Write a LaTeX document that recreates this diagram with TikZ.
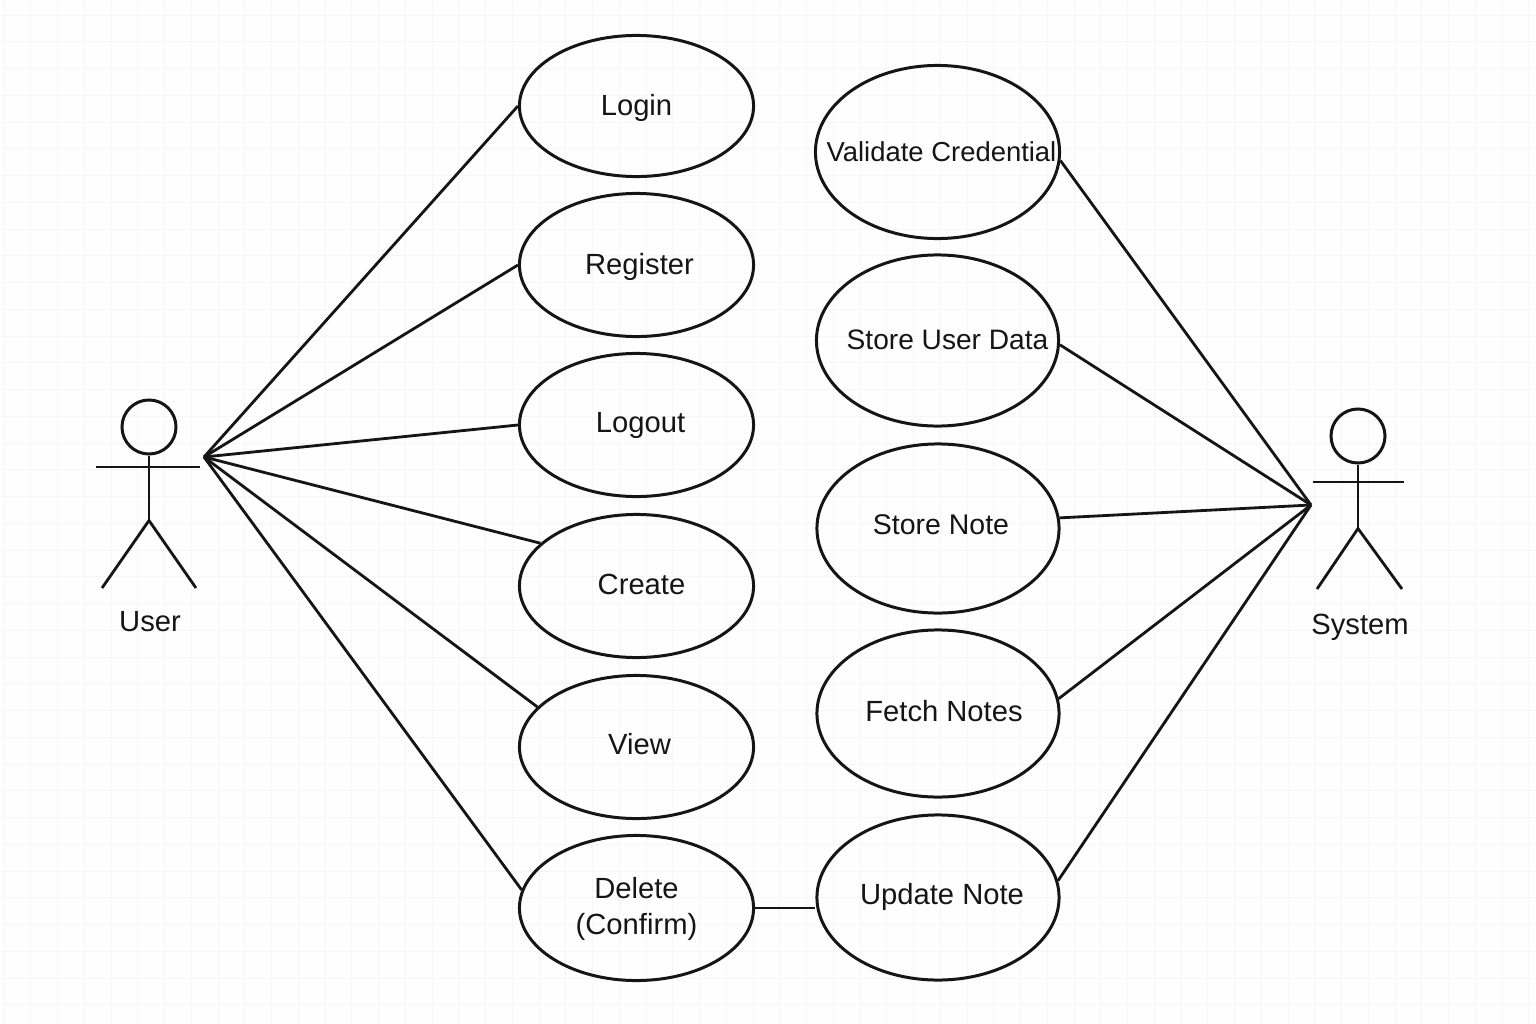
\documentclass[tikz,border=0pt]{standalone}
\usepackage{fontspec}
\setmainfont{Liberation Sans}
\usetikzlibrary{
  shapes.geometric,
  calc,
  positioning
}
\definecolor{inkline}{HTML}{151515}
\definecolor{gridline}{HTML}{F6F6F6}
\definecolor{paper}{HTML}{FEFEFE}
\newcommand{\umlfont}{\fontsize{8.3}{10}\selectfont}
\tikzset{
  usecase/.style = {ellipse, draw = inkline, line width = 0.85pt, inner sep = 0pt},
  leftcase/.style = {usecase, minimum width = 2.34cm, minimum height = 1.43cm},
  rightcase/.style = {usecase, minimum width = 2.42cm, minimum height = 1.7cm},
  assoc/.style = {draw = inkline, line width = 0.8pt},
  actorhead/.style = {circle, draw = inkline, line width = 0.85pt, minimum size = 0.54cm, inner sep = 0pt},
  actorname/.style = {text = inkline, font = \umlfont},
  every label/.style = {text = inkline, font = \umlfont, align = center}
}
\begin{document}
\begin{tikzpicture}[x = 0.01cm, y = -0.01cm]
    \useasboundingbox (0,0) rectangle (1536,1024);
    \fill[paper] (0,0) rectangle (1536,1024);

    % faint paper grid
    \foreach \gx in {4,30.75,...,1536}
      \draw[gridline, line width = 0.25pt] (\gx,0) -- (\gx,1024);
    \foreach \gy in {15,41.75,...,1024}
      \draw[gridline, line width = 0.25pt] (0,\gy) -- (1536,\gy);

    % user side
    \node[leftcase, minimum height = 1.41cm, label={[yshift=-0.02cm]center:Login}] (login) at (636.5,106) {};
    \node[leftcase, label={[xshift=0.03cm,yshift=-0.02cm]center:Register}] (register) at (636.5,265) {};
    \node[leftcase, label={[xshift=0.04cm,yshift=0cm]center:Logout}] (logout) at (636.5,425) {};
    \node[leftcase, label={[xshift=0.05cm,yshift=0.02cm]center:Create}] (create) at (636.5,586) {};
    \node[leftcase, label={[xshift=0.03cm,yshift=0.03cm]center:View}] (view) at (636.5,747) {};
    \node[leftcase, minimum height = 1.45cm, label={[yshift=-0.01cm]center:{Delete\\(Confirm)}}] (delete) at (636.5,908) {};

    % system side
    \node[rightcase, minimum width = 2.44cm, minimum height = 1.73cm, label={[xshift=0.04cm,font=\fontsize{7.8}{10}\selectfont]center:Validate Credential}] (validate) at (937.5,152) {};
    \node[rightcase, minimum height = 1.71cm, label={[xshift=0.10cm,yshift=0.01cm,font=\fontsize{8}{10}\selectfont]center:Store User Data}] (storeuser) at (937.5,340.5) {};
    \node[rightcase, minimum height = 1.69cm, label={[xshift=0.03cm,yshift=0.04cm,font=\fontsize{8.1}{10}\selectfont]center:Store Note}] (storenote) at (938,528.5) {};
    \node[rightcase, minimum height = 1.67cm, label={[xshift=0.06cm,yshift=0.02cm]center:Fetch Notes}] (fetch) at (938,713.5) {};
    \node[rightcase, minimum height = 1.65cm, label={[xshift=0.04cm,yshift=0.01cm]center:Update Note}] (update) at (938,897.5) {};

    % actors
    \node[actorhead] (userhead) at (149,427) {};
    \draw[assoc] (userhead.south) -- ++(0,65) coordinate (userhip);
    \draw[assoc] (96,467) -- (200,467);
    \draw[assoc] (102,588) -- (userhip) -- (196,588);
    \node[actorname] (username) at (150,622) {User};

    \node[actorhead] (syshead) at (1358,436) {};
    \draw[assoc] (syshead.south) -- ++(0,64) coordinate (syship);
    \draw[assoc] (1313,482) -- (1404,482);
    \draw[assoc] (1317,589) -- (syship) -- (1402,589);
    \node[actorname] (sysname) at (1360,627) {System};

    \coordinate (userhub) at (204,457);
    \coordinate (syshub) at (1311,505);

    \draw[assoc] (userhub) -- (login.west);
    \draw[assoc] (userhub) -- (register.west);
    \draw[assoc] (userhub) -- (logout.west);
    \draw[assoc] (userhub) -- (create.156);
    \draw[assoc] (userhub) -- (view.158);
    \draw[assoc] (userhub) -- (delete.171);

    \draw[assoc] (syshub) -- (validate.-4);
    \draw[assoc] (syshub) -- (storeuser.-2);
    \draw[assoc] (syshub) -- (storenote.5);
    \draw[assoc] (syshub) -- (fetch.7);
    \draw[assoc] (syshub) -- (update.8);

    \draw[assoc] (delete.east) -- (update.west |- delete.east);
  \end{tikzpicture}
\end{document}
